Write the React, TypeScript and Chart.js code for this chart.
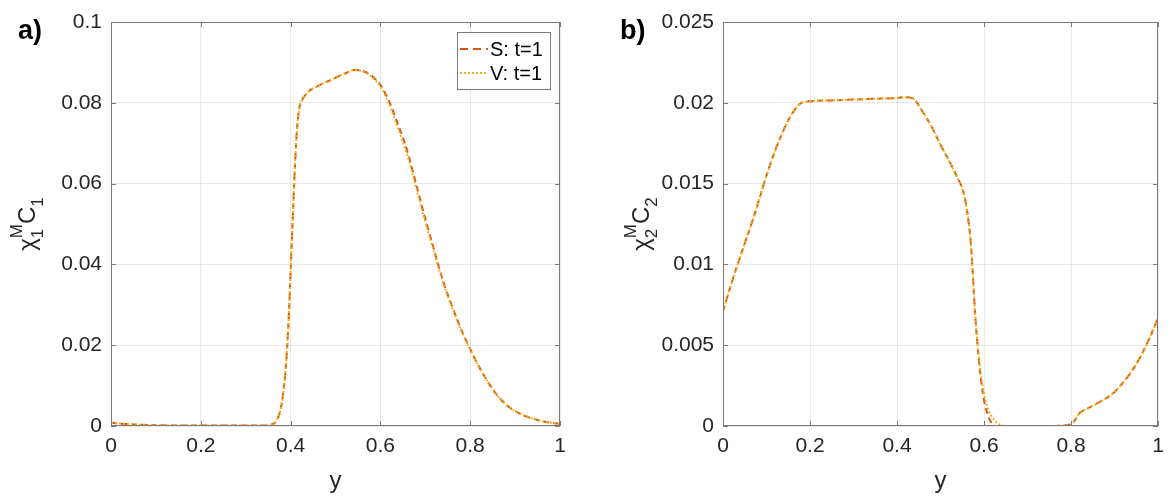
import React, { useEffect, useRef } from "react";
import Chart from "chart.js/auto";

// panel a): chi_1^M C_1 against y
const leftPos = [0, 0.02, 0.05, 0.1, 0.15, 0.2, 0.25, 0.3, 0.34, 0.355, 0.365, 0.37, 0.375, 0.38, 0.385, 0.39, 0.395, 0.4, 0.405, 0.41, 0.415, 0.42, 0.425, 0.43, 0.44, 0.46, 0.48, 0.5, 0.52, 0.54, 0.56, 0.58, 0.6, 0.62, 0.64, 0.66, 0.68, 0.7, 0.72, 0.74, 0.76, 0.78, 0.8, 0.82, 0.84, 0.86, 0.88, 0.9, 0.92, 0.94, 0.96, 0.98, 1];
const leftV = [0.0008, 0.0006, 0.0004, 0.0002, 0.0001, 0.0001, 0.0001, 0.0001, 0.0001, 0.0003, 0.0008, 0.0016, 0.003, 0.0055, 0.0095, 0.0155, 0.025, 0.038, 0.052, 0.065, 0.0745, 0.079, 0.0806, 0.0815, 0.0828, 0.0841, 0.0852, 0.0862, 0.0872, 0.0881, 0.0878, 0.0865, 0.084, 0.0795, 0.0735, 0.067, 0.0588, 0.0505, 0.0428, 0.0354, 0.0292, 0.0237, 0.0189, 0.0146, 0.0108, 0.0076, 0.0053, 0.0037, 0.0026, 0.0018, 0.0012, 0.0008, 0.0005];
const leftS = [0.0008, 0.0006, 0.0004, 0.0002, 0.0001, 0.0001, 0.0001, 0.0001, 0.0001, 0.0003, 0.0008, 0.0016, 0.003, 0.0055, 0.0095, 0.0155, 0.025, 0.038, 0.052, 0.065, 0.0745, 0.079, 0.0806, 0.0815, 0.0828, 0.0841, 0.0852, 0.0862, 0.0872, 0.0881, 0.0879, 0.0867, 0.0844, 0.0802, 0.0744, 0.068, 0.0597, 0.0513, 0.0434, 0.0358, 0.0295, 0.0239, 0.019, 0.0146, 0.0108, 0.0076, 0.0053, 0.0037, 0.0026, 0.0018, 0.0012, 0.0008, 0.0005];

// panel b): chi_2^M C_2 against y
const rightPos = [0, 0.025, 0.05, 0.075, 0.1, 0.125, 0.15, 0.175, 0.2, 0.25, 0.3, 0.35, 0.4, 0.42, 0.44, 0.46, 0.48, 0.5, 0.52, 0.54, 0.55, 0.56, 0.57, 0.58, 0.59, 0.6, 0.61, 0.62, 0.63, 0.64, 0.65, 0.7, 0.75, 0.8, 0.82, 0.84, 0.86, 0.88, 0.9, 0.92, 0.94, 0.96, 0.98, 1];
const rightV = [0.0071, 0.0093, 0.0113, 0.0133, 0.0155, 0.0174, 0.0189, 0.0199, 0.0201, 0.02015, 0.0202, 0.02025, 0.0203, 0.02035, 0.0202, 0.0194, 0.0185, 0.0174, 0.0164, 0.0153, 0.0147, 0.0135, 0.0112, 0.0068, 0.0038, 0.002, 0.001, 0.0005, 0.0002, 0.00005, 0, 0, 0, 0.0001, 0.0008, 0.0011, 0.0014, 0.0017, 0.0021, 0.0027, 0.0034, 0.0043, 0.0054, 0.0067];
const rightS = [0.0071, 0.0093, 0.0113, 0.0133, 0.0155, 0.0174, 0.0189, 0.0199, 0.0201, 0.02015, 0.0202, 0.02025, 0.0203, 0.02035, 0.0202, 0.0194, 0.0185, 0.0174, 0.0164, 0.0153, 0.0147, 0.0135, 0.0112, 0.0068, 0.0036, 0.0016, 0.0006, 0.0001, 0, 0, 0, 0, 0, 0.0001, 0.0008, 0.0011, 0.0014, 0.0017, 0.0021, 0.0027, 0.0034, 0.0043, 0.0054, 0.0067];

const seriesNames = ["S: t=1", "V: t=1"];

const FONT = "'Liberation Sans', Arial, Helvetica, sans-serif";
const TEXT = "#262626";
const BOX = "#7a7a7a";
const S_COLOR = "#D95319";
const V_COLOR = "#EDB120";
const S_DASH = [6, 4];
const V_DASH = [2, 2];

const fmt = (v: number | string) => String(parseFloat(Number(v).toFixed(6)));

const decorPlugin = {
	id: "decor",
	afterDraw(chart: any, _args: any, opts: any) {
		const { ctx, chartArea: a } = chart;
		const xs = chart.scales.x;
		const ys = chart.scales.y;
		ctx.save();

		// box and inner ticks
		ctx.strokeStyle = BOX;
		ctx.lineWidth = 1;
		ctx.setLineDash([]);
		ctx.beginPath();
		xs.ticks.forEach((t: any) => {
			const p = Math.round(xs.getPixelForValue(t.value)) + 0.5;
			ctx.moveTo(p, a.bottom);
			ctx.lineTo(p, a.bottom - 5);
			ctx.moveTo(p, a.top);
			ctx.lineTo(p, a.top + 5);
		});
		ys.ticks.forEach((t: any) => {
			const p = Math.round(ys.getPixelForValue(t.value)) + 0.5;
			ctx.moveTo(a.left, p);
			ctx.lineTo(a.left + 5, p);
			ctx.moveTo(a.right, p);
			ctx.lineTo(a.right - 5, p);
		});
		ctx.stroke();
		ctx.strokeRect(Math.round(a.left) + 0.5, Math.round(a.top) + 0.5, Math.round(a.width) - 1, Math.round(a.height) - 1);

		// panel letter
		ctx.fillStyle = "#000";
		ctx.font = `bold 27px ${FONT}`;
		ctx.textBaseline = "alphabetic";
		ctx.textAlign = "left";
		ctx.fillText(opts.letter, opts.letterX, 39);

		// y label with sub and superscripts
		ctx.save();
		ctx.translate(opts.labelX, (a.top + a.bottom) / 2);
		ctx.rotate(-Math.PI / 2);
		ctx.fillStyle = TEXT;
		const big = `24px ${FONT}`;
		const small = `17px ${FONT}`;
		ctx.font = big;
		const wChi = ctx.measureText("χ").width;
		const wC = ctx.measureText("C").width;
		ctx.font = small;
		const wM = ctx.measureText("M").width;
		const wSub = ctx.measureText(opts.sub).width;
		const total = wChi + Math.max(wM, wSub) + wC + wSub;
		let x = -total / 2;
		ctx.font = big;
		ctx.fillText("χ", x, 0);
		x += wChi;
		ctx.font = small;
		ctx.fillText("M", x, -13);
		ctx.fillText(opts.sub, x, 8);
		x += Math.max(wM, wSub);
		ctx.font = big;
		ctx.fillText("C", x, 0);
		x += wC;
		ctx.font = small;
		ctx.fillText(opts.sub, x, 8);
		ctx.restore();

		// legend box
		if (opts.legend) {
			const lx = 457;
			const ly = 32;
			const lw = 93;
			const lh = 57;
			ctx.fillStyle = "#fff";
			ctx.fillRect(lx, ly, lw, lh);
			ctx.strokeStyle = BOX;
			ctx.lineWidth = 1;
			ctx.strokeRect(lx + 0.5, ly + 0.5, lw, lh);
			const rows = [
				{ color: S_COLOR, dash: [8, 5] },
				{ color: V_COLOR, dash: [2, 2] },
			];
			ctx.font = `20px ${FONT}`;
			ctx.textBaseline = "middle";
			rows.forEach((r, i) => {
				const cy = 49 + i * 24;
				ctx.strokeStyle = r.color;
				ctx.lineWidth = 2;
				ctx.setLineDash(r.dash);
				ctx.beginPath();
				ctx.moveTo(460, cy);
				ctx.lineTo(488, cy);
				ctx.stroke();
				ctx.setLineDash([]);
				ctx.fillStyle = "#000";
				ctx.fillText(seriesNames[i], 490, cy + 1);
			});
		}
		ctx.restore();
	},
};

interface PanelProps {
	pos: number[];
	s: number[];
	v: number[];
	yMax: number;
	yStep: number;
	axisWidth: number;
	padRight: number;
	letter: string;
	letterX: number;
	labelX: number;
	sub: string;
	legend: boolean;
}

const Panel: React.FC<PanelProps> = (p) => {
	const canvasRef = useRef<HTMLCanvasElement>(null);
	const chartRef = useRef<Chart>();

	useEffect(() => {
		if (!canvasRef.current) return;
		const ctx = canvasRef.current.getContext("2d");
		if (!ctx) return;
		chartRef.current = new Chart(ctx, {
			type: "line",
			data: {
				datasets: [
					{
						label: seriesNames[0],
						data: p.pos.map((x, i) => ({ x, y: p.s[i] })),
						borderColor: S_COLOR,
						borderWidth: 2,
						borderDash: S_DASH,
						pointRadius: 0,
						cubicInterpolationMode: "monotone",
						order: 1,
					},
					{
						label: seriesNames[1],
						data: p.pos.map((x, i) => ({ x, y: p.v[i] })),
						borderColor: V_COLOR,
						borderWidth: 2,
						borderDash: V_DASH,
						pointRadius: 0,
						cubicInterpolationMode: "monotone",
						order: 0,
					},
				],
			},
			options: {
				animation: false,
				responsive: true,
				maintainAspectRatio: false,
				layout: { padding: { top: 22, right: p.padRight, left: 0, bottom: 0 } },
				plugins: {
					legend: { display: false },
					tooltip: { enabled: false },
					decor: {
						letter: p.letter,
						letterX: p.letterX,
						labelX: p.labelX,
						sub: p.sub,
						legend: p.legend,
					},
				} as any,
				scales: {
					x: {
						type: "linear",
						min: 0,
						max: 1,
						ticks: {
							stepSize: 0.2,
							callback: fmt,
							font: { size: 21, family: FONT },
							color: TEXT,
							padding: 8,
							maxRotation: 0,
						},
						grid: { color: "rgba(38,38,38,0.1)", drawTicks: false },
						border: { display: false },
						title: {
							display: true,
							text: "y",
							font: { size: 24, family: FONT },
							color: TEXT,
							padding: { top: 0, bottom: 4 },
						},
						afterFit: (scale: any) => {
							scale.height = 74;
						},
					},
					y: {
						type: "linear",
						min: 0,
						max: p.yMax,
						ticks: {
							stepSize: p.yStep,
							callback: fmt,
							font: { size: 21, family: FONT },
							color: TEXT,
							padding: 9,
						},
						grid: { color: "rgba(38,38,38,0.1)", drawTicks: false },
						border: { display: false },
						afterFit: (scale: any) => {
							scale.width = p.axisWidth;
						},
					},
				},
			},
			plugins: [decorPlugin],
		});
		return () => {
			if (chartRef.current) {
				chartRef.current.destroy();
			}
		};
	}, [p]);

	return (
		<div style={{ position: "relative", width: 588, height: 500 }}>
			<canvas ref={canvasRef} />
		</div>
	);
};

const leftProps: PanelProps = {
	pos: leftPos,
	s: leftS,
	v: leftV,
	yMax: 0.1,
	yStep: 0.02,
	axisWidth: 111,
	padRight: 28,
	letter: "a)",
	letterX: 18,
	labelX: 35,
	sub: "1",
	legend: true,
};

const rightProps: PanelProps = {
	pos: rightPos,
	s: rightS,
	v: rightV,
	yMax: 0.025,
	yStep: 0.005,
	axisWidth: 135,
	padRight: 18,
	letter: "b)",
	letterX: 32,
	labelX: 61,
	sub: "2",
	legend: false,
};

export default function App() {
	useEffect(() => {
		document.body.style.margin = "0";
	}, []);
	return (
		<div style={{ display: "flex", width: 1176, height: 500, background: "#fff" }}>
			<Panel {...leftProps} />
			<Panel {...rightProps} />
		</div>
	);
}
